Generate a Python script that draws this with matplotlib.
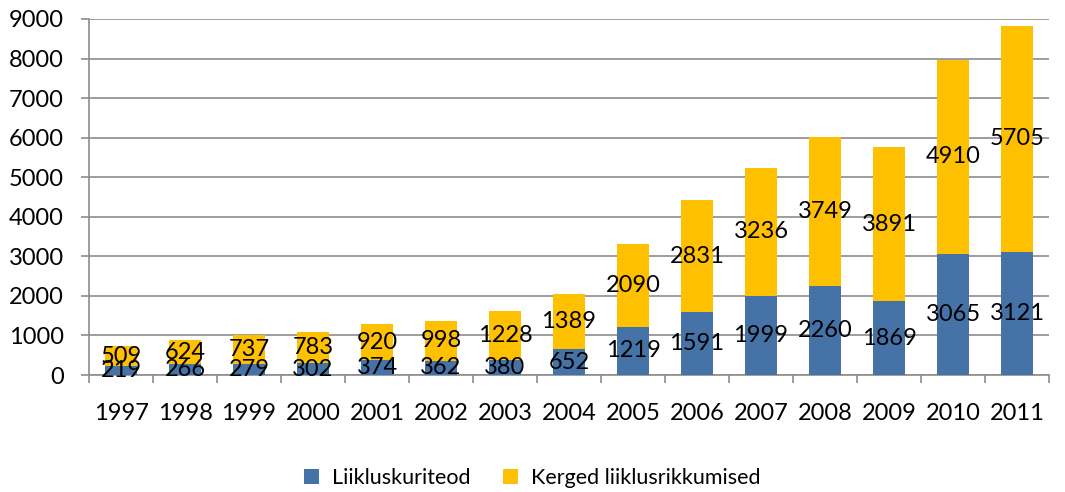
import numpy as np
import matplotlib.pyplot as plt

# data
years = ['1997', '1998', '1999', '2000', '2001', '2002', '2003', '2004',
         '2005', '2006', '2007', '2008', '2009', '2010', '2011']
kuriteod = [219, 266, 279, 302, 374, 362, 380, 652, 1219, 1591, 1999, 2260, 1869, 3065, 3121]
rikkumised = [509, 624, 737, 783, 920, 998, 1228, 1389, 2090, 2831, 3236, 3749, 3891, 4910, 5705]

blue = '#4572A7'
yellow = '#FFC000'
grid = '#8C8C8C'

plt.rcParams['font.family'] = ['Lato', 'DejaVu Sans']

fig = plt.figure(figsize=(10.65, 4.92), dpi=100)
ax = fig.add_axes([89/1065, 1 - 375/492, (1049-89)/1065, (375-19)/492])

x = np.arange(len(years))
b1 = ax.bar(x, kuriteod, width=0.5, color=blue, label='Liikluskuriteod', zorder=3)
b2 = ax.bar(x, rikkumised, width=0.5, bottom=kuriteod, color=yellow,
            label='Kerged liiklusrikkumised', zorder=3)

ax.bar_label(b1, labels=[str(v) for v in kuriteod], label_type='center', fontsize=17, zorder=4)
ax.bar_label(b2, labels=[str(v) for v in rikkumised], label_type='center', fontsize=17, zorder=4)

ax.set_xlim(-0.5, len(years) - 0.5)
ax.set_ylim(0, 9000)
ax.set_yticks(np.arange(0, 9001, 1000))
ax.yaxis.grid(True, color=grid, linewidth=1.2, zorder=0)
ax.set_axisbelow(True)

ax.set_xticks(x)
ax.set_xticklabels(years)
ax.set_xticks(np.arange(-0.5, len(years), 1), minor=True)
ax.tick_params(axis='x', which='major', length=0, pad=20, labelsize=17)
ax.tick_params(axis='x', which='minor', length=6, color=grid, width=1.2)
ax.tick_params(axis='y', length=6, color=grid, width=1.2, labelsize=17, pad=12)

for s in ['top', 'right']:
    ax.spines[s].set_visible(False)
for s in ['left', 'bottom']:
    ax.spines[s].set_color(grid)
    ax.spines[s].set_linewidth(1.2)

fig.legend(handles=[b1, b2], loc='center', bbox_to_anchor=(0.5, 1 - 478/492),
           ncol=2, frameon=False, fontsize=15.5, handlelength=0.7, handleheight=0.7,
           columnspacing=1.5, handletextpad=0.6)

fig.savefig('out.png', dpi=100)
